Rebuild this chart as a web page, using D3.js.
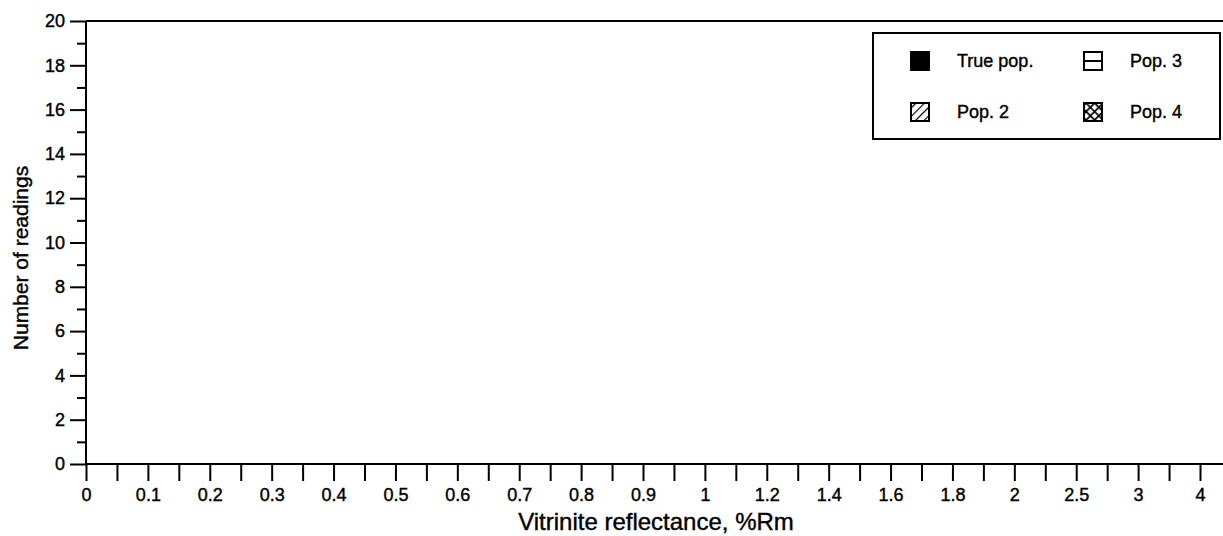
<!DOCTYPE html>
<html>
<head>
<meta charset="utf-8">
<script src="https://cdn.jsdelivr.net/npm/d3@7"></script>
<style>
  body { margin: 0; background: #fff; }
  svg { display: block; font-family: "Liberation Sans", Arial, Helvetica, sans-serif; }
  .txt { fill: #000; stroke: #000; stroke-width: 0.4px; }
</style>
</head>
<body>
<svg id="chart" width="1223" height="536"></svg>
<script>
// reflectance classes (x categories), as labelled on the axis
var bins = ["0", "0.1", "0.2", "0.3", "0.4", "0.5", "0.6", "0.7", "0.8", "0.9", "1",
            "1.2", "1.4", "1.6", "1.8", "2", "2.5", "3", "4"]

// series, readings per class -- the reference shows no bars, so every count is 0
var truePop = [0, 0, 0, 0, 0, 0, 0, 0, 0, 0, 0, 0, 0, 0, 0, 0, 0, 0, 0]
var pop2    = [0, 0, 0, 0, 0, 0, 0, 0, 0, 0, 0, 0, 0, 0, 0, 0, 0, 0, 0]
var pop3    = [0, 0, 0, 0, 0, 0, 0, 0, 0, 0, 0, 0, 0, 0, 0, 0, 0, 0, 0]
var pop4    = [0, 0, 0, 0, 0, 0, 0, 0, 0, 0, 0, 0, 0, 0, 0, 0, 0, 0, 0]

var seriesNames = ["True pop.", "Pop. 2", "Pop. 3", "Pop. 4"]
var yTicks = [0, 2, 4, 6, 8, 10, 12, 14, 16, 18, 20]
var yMinor = [1, 3, 5, 7, 9, 11, 13, 15, 17, 19]

window.onload = () => {
  draw_chart()
}

function draw_chart() {
  var svg = d3.select("#chart"),
      width = +svg.attr("width")

  var left = 86, right = 1200, top = 21, bottom = 464

  // patterns for the legend swatches
  var defs = svg.append("defs")
  var diag = defs.append("pattern")
    .attr("id", "diag").attr("patternUnits", "userSpaceOnUse")
    .attr("width", 6).attr("height", 6)
    .attr("patternTransform", "rotate(45)")
  diag.append("rect").attr("width", 6).attr("height", 6).attr("fill", "#fff")
  diag.append("line").attr("x1", 0).attr("y1", 0).attr("x2", 0).attr("y2", 6)
    .attr("stroke", "#000").attr("stroke-width", 2.4)

  var cross = defs.append("pattern")
    .attr("id", "cross").attr("patternUnits", "userSpaceOnUse")
    .attr("width", 6).attr("height", 6)
    .attr("patternTransform", "rotate(45)")
  cross.append("rect").attr("width", 6).attr("height", 6).attr("fill", "#fff")
  cross.append("line").attr("x1", 0).attr("y1", 0).attr("x2", 0).attr("y2", 6)
    .attr("stroke", "#000").attr("stroke-width", 3.4)
  cross.append("line").attr("x1", 0).attr("y1", 0).attr("x2", 6).attr("y2", 0)
    .attr("stroke", "#000").attr("stroke-width", 3.4)

  var fills = ["#000", "url(#diag)", "#fff", "url(#cross)"]

  // scales
  var x = d3.scalePoint().domain(bins).range([left, right])
  var xi = d3.scaleLinear().domain([0, bins.length - 1]).range([left, right])
  var y = d3.scaleLinear().domain([0, 20]).range([bottom, top])

  // bars (all zero height in this figure)
  var series = [truePop, pop2, pop3, pop4]
  var barW = x.step() / 5
  series.forEach(function(vals, s) {
    svg.append("g")
      .selectAll("rect")
      .data(vals)
      .enter()
      .append("rect")
        .attr("x", function(d, i) { return x(bins[i]) - 2 * barW + s * barW })
        .attr("y", function(d) { return y(d) })
        .attr("width", barW)
        .attr("height", function(d) { return bottom - y(d) })
        .attr("fill", fills[s])
        .attr("stroke", "#000")
        .attr("stroke-width", function(d) { return d > 0 ? 1 : 0 })
  })

  // Y axis: major and minor ticks
  var yAxis = svg.append("g")
    .attr("transform", "translate(" + left + ",0)")
    .call(d3.axisLeft(y).tickValues(yTicks).tickSize(16).tickPadding(5).tickFormat(d3.format("d")))
  yAxis.select(".domain").remove()
  yAxis.attr("font-size", 18).attr("font-family", null)
  yAxis.selectAll("line").attr("stroke", "#000").attr("stroke-width", 2)
  yAxis.selectAll("text").attr("class", "txt")

  var yMin = svg.append("g")
    .attr("transform", "translate(" + left + ",0)")
    .call(d3.axisLeft(y).tickValues(yMinor).tickSize(9).tickFormat(""))
  yMin.select(".domain").remove()
  yMin.selectAll("line").attr("stroke", "#000").attr("stroke-width", 2)

  // X axis: labelled ticks plus in-between ticks
  var xAxis = svg.append("g")
    .attr("transform", "translate(0," + bottom + ")")
    .call(d3.axisBottom(x).tickSize(17).tickPadding(7))
  xAxis.select(".domain").remove()
  xAxis.attr("font-size", 18).attr("font-family", null)
  xAxis.selectAll("line").attr("stroke", "#000").attr("stroke-width", 2)
  xAxis.selectAll("text").attr("class", "txt")

  var mids = d3.range(bins.length - 1).map(function(i) { return i + 0.5 })
  var xMin = svg.append("g")
    .attr("transform", "translate(0," + bottom + ")")
    .call(d3.axisBottom(xi).tickValues(mids).tickSize(17).tickFormat(""))
  xMin.select(".domain").remove()
  xMin.selectAll("line").attr("stroke", "#000").attr("stroke-width", 2)

  // frame lines: left axis, bottom axis, top border
  var frame = svg.append("g").attr("stroke", "#000").attr("stroke-width", 2)
  frame.append("line").attr("x1", left).attr("x2", left).attr("y1", top).attr("y2", bottom)
  frame.append("line").attr("x1", left).attr("x2", width).attr("y1", bottom).attr("y2", bottom)
  frame.append("line").attr("x1", left).attr("x2", width).attr("y1", top).attr("y2", top)

  // axis titles
  svg.append("text")
    .attr("class", "txt")
    .attr("x", 656).attr("y", 530)
    .attr("text-anchor", "middle")
    .attr("font-size", 24)
    .text("Vitrinite reflectance, %Rm")

  svg.append("text")
    .attr("class", "txt")
    .attr("transform", "translate(28,258) rotate(-90)")
    .attr("text-anchor", "middle")
    .attr("font-size", 21)
    .text("Number of readings")

  // legend
  var lg = svg.append("g")
  lg.append("rect")
    .attr("x", 873).attr("y", 33).attr("width", 347).attr("height", 106)
    .attr("fill", "#fff").attr("stroke", "#000").attr("stroke-width", 2)

  var pos = [[911, 61], [911, 112], [1084, 61], [1084, 112]]
  seriesNames.forEach(function(name, s) {
    var p = pos[s]
    lg.append("rect")
      .attr("x", p[0]).attr("y", p[1] - 9).attr("width", 18).attr("height", 18)
      .attr("fill", fills[s]).attr("stroke", "#000").attr("stroke-width", 2)
    if (s == 2) {
      lg.append("line")
        .attr("x1", p[0]).attr("x2", p[0] + 18).attr("y1", p[1]).attr("y2", p[1])
        .attr("stroke", "#000").attr("stroke-width", 2)
    }
    lg.append("text")
      .attr("class", "txt")
      .attr("x", p[0] + 46).attr("y", p[1])
      .attr("dy", "0.35em")
      .attr("font-size", 18)
      .text(name)
  })
}
</script>
</body>
</html>
